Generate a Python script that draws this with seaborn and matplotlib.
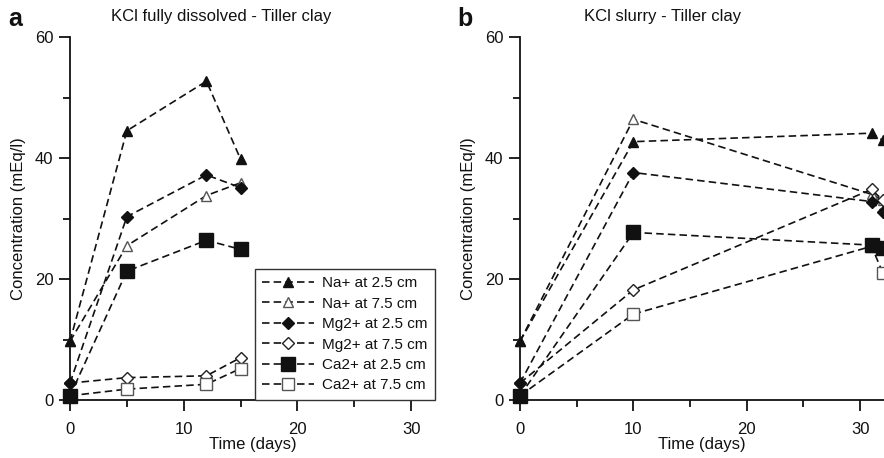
import numpy as np
import pandas as pd
import matplotlib
matplotlib.use("Agg")
import matplotlib.pyplot as plt
from matplotlib.ticker import MultipleLocator
import seaborn as sns

sns.set_style("white")
plt.rcParams['font.family'] = ['Liberation Sans', 'DejaVu Sans']

# ---- data ----
series_labels = ["Na+ at 2.5 cm", "Na+ at 7.5 cm", "Mg2+ at 2.5 cm",
                 "Mg2+ at 7.5 cm", "Ca2+ at 2.5 cm", "Ca2+ at 7.5 cm"]

days_a = [0, 5, 12, 15]
na25_a = [9.7, 44.5, 52.7, 39.8]
na75_a = [9.7, 25.5, 33.8, 35.9]
mg25_a = [2.8, 30.3, 37.2, 35.1]
mg75_a = [2.8, 3.7, 4.0, 7.0]
ca25_a = [0.7, 21.3, 26.4, 24.9]
ca75_a = [0.7, 1.8, 2.6, 5.2]

days_b = [0, 10, 31, 32]
na25_b = [9.7, 42.7, 44.1, 42.9]
na75_b = [9.7, 46.4, 34.0, 33.0]
mg25_b = [2.8, 37.6, 32.8, 31.1]
mg75_b = [2.8, 18.2, 34.8, 33.0]
ca25_b = [0.7, 27.7, 25.6, 25.1]
ca75_b = [0.7, 14.2, 25.4, 21.0]

titles = ["KCl fully dissolved - Tiller clay", "KCl slurry - Tiller clay"]
panel_letters = ["a", "b"]

ink = "#111111"
styles = [
    dict(marker="^", markersize=7, markerfacecolor=ink, markeredgecolor=ink, zorder=5),
    dict(marker="^", markersize=7, markerfacecolor="white", markeredgecolor="#555555", zorder=3),
    dict(marker="D", markersize=6.5, markerfacecolor=ink, markeredgecolor=ink, zorder=5),
    dict(marker="D", markersize=6.5, markerfacecolor="white", markeredgecolor="#222222", zorder=3),
    dict(marker="s", markersize=10, markerfacecolor=ink, markeredgecolor=ink, zorder=5),
    dict(marker="s", markersize=9, markerfacecolor="white", markeredgecolor="#555555", zorder=3),
]

panels = [
    (days_a, [na25_a, na75_a, mg25_a, mg75_a, ca25_a, ca75_a]),
    (days_b, [na25_b, na75_b, mg25_b, mg75_b, ca25_b, ca75_b]),
]

fig = plt.figure(figsize=(8.84, 4.58), dpi=100)
ax_pos = [[70/884, 58/458, 365/884, 363/458], [520/884, 58/458, 364/884, 363/458]]

for pi, (days, vals) in enumerate(panels):
    ax = fig.add_axes(ax_pos[pi])
    handles = []
    for lab, v, st in zip(series_labels, vals, styles):
        df = pd.DataFrame({"day": days, "conc": v})
        sns.lineplot(data=df, x="day", y="conc", ax=ax, color=ink,
                     linestyle=(0, (4.5, 2.5)), linewidth=1.2,
                     markeredgewidth=1.0, clip_on=False, label=lab,
                     legend=False, **st)
        handles.append(ax.lines[-1])
    ax.set_xlim(0, 32.1)
    ax.set_ylim(0, 60)
    ax.xaxis.set_major_locator(MultipleLocator(10))
    ax.xaxis.set_minor_locator(MultipleLocator(5))
    ax.yaxis.set_major_locator(MultipleLocator(20))
    ax.yaxis.set_minor_locator(MultipleLocator(10))
    for s in ["top", "right"]:
        ax.spines[s].set_visible(False)
    for s in ["left", "bottom"]:
        ax.spines[s].set_color(ink)
        ax.spines[s].set_linewidth(1.3)
    ax.tick_params(which="major", direction="out", length=8, width=1.3,
                   color=ink, labelsize=12, labelcolor=ink, pad=4,
                   bottom=True, left=True)
    ax.tick_params(which="minor", direction="out", length=5, width=1.3,
                   color=ink, bottom=True, left=True)
    ax.tick_params(axis="x", which="major", pad=8)
    ax.set_xlabel("Time (days)", fontsize=12, color=ink, labelpad=0)
    ax.set_ylabel("Concentration (mEq/l)", fontsize=12, color=ink, labelpad=6)
    ax.set_facecolor("none")
    fig.text(0.25 + pi * 0.5, 0.963, titles[pi], ha="center", va="center",
             fontsize=12, color=ink)
    fig.text(0.009 + pi * 0.508, 0.958, panel_letters[pi], ha="left", va="center",
             fontsize=18, fontweight="bold", color=ink)
    if pi == 0:
        leg = ax.legend(handles=handles, labels=series_labels,
                        loc="lower right", bbox_to_anchor=(1.0, 0.0),
                        fontsize=11, frameon=True, fancybox=False,
                        handlelength=3.4, handletextpad=0.5, labelspacing=0.42,
                        borderpad=0.5, numpoints=1, borderaxespad=0.0)
        leg.set_zorder(10)
        fr = leg.get_frame()
        fr.set_edgecolor("#333333")
        fr.set_linewidth(1.0)
        fr.set_alpha(1)
        for t in leg.get_texts():
            t.set_color(ink)

fig.savefig("out.png", dpi=100)
